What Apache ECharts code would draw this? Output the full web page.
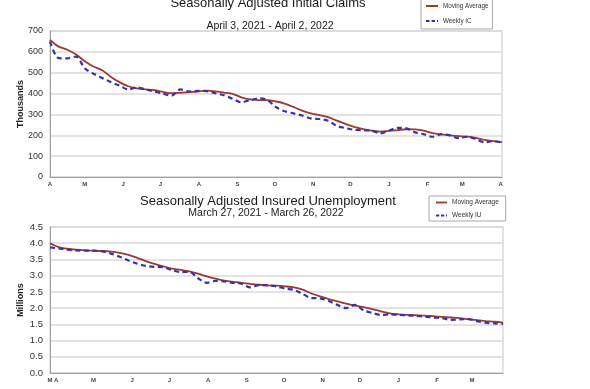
<!DOCTYPE html>
<html>
<head>
<meta charset="utf-8">
<script src="https://cdn.jsdelivr.net/npm/echarts@6/dist/echarts.min.js"></script>
<style>html,body{margin:0;padding:0;background:#fff;}#c{width:590px;height:389px;}</style>
</head>
<body>
<div id="c"></div>
<script>
// ---- Data: Initial Claims (thousands), weekly, April 3, 2021 - April 2, 2022 ----
const icStart = '2021-04-03';
const icMovingAvg = [657,625,610,587,555,530,512,480,455,435,425,420,416,408,402,404,407,410,414,411,405,399,382,372,369,369,362,352,336,318,305,297,287,270,255,240,230,222,218,221,225,229,228,222,210,204,200,196,194,188,178,172,167];
const icWeekly = [649,570,569,577,521,495,475,455,438,420,430,420,410,400,390,420,410,413,412,402,392,375,358,368,377,369,335,315,305,295,281,278,270,245,235,226,224,222,209,222,236,233,214,205,193,205,200,186,193,182,166,172,165];
const icTickDates = ['2021-04-03','2021-05-01','2021-06-01','2021-07-01','2021-08-01','2021-09-01','2021-10-01','2021-11-01','2021-12-01','2022-01-01','2022-02-01','2022-03-01','2022-04-01'];
const icTickLabels = ['A','M','J','J','A','S','O','N','D','J','F','M','A'];
const icYTicks = [0,100,200,300,400,500,600,700];

// ---- Data: Insured Unemployment (millions), weekly, March 27, 2021 - March 26, 2022 ----
const iuStart = '2021-03-27';
const iuMovingAvg = [4.00,3.88,3.83,3.80,3.78,3.77,3.76,3.74,3.70,3.64,3.55,3.45,3.36,3.29,3.22,3.18,3.13,3.06,2.98,2.91,2.85,2.81,2.78,2.75,2.72,2.70,2.69,2.67,2.64,2.57,2.45,2.36,2.28,2.21,2.14,2.08,2.03,1.97,1.90,1.84,1.81,1.79,1.78,1.77,1.75,1.73,1.71,1.69,1.66,1.63,1.60,1.58,1.55];
const iuWeekly = [3.87,3.84,3.80,3.78,3.77,3.77,3.75,3.68,3.58,3.47,3.37,3.30,3.27,3.26,3.17,3.11,3.12,2.92,2.78,2.84,2.82,2.78,2.75,2.64,2.71,2.70,2.67,2.60,2.56,2.44,2.31,2.30,2.22,2.10,2.00,2.10,1.93,1.85,1.79,1.81,1.79,1.78,1.76,1.74,1.71,1.69,1.64,1.65,1.66,1.60,1.55,1.53,1.51];
const iuTickDates = ['2021-03-27','2021-04-01','2021-05-01','2021-06-01','2021-07-01','2021-08-01','2021-09-01','2021-10-01','2021-11-01','2021-12-01','2022-01-01','2022-02-01','2022-03-01'];
const iuTickLabels = ['M','A','M','J','J','A','S','O','N','D','J','F','M'];
const iuYTicks = [0,0.5,1.0,1.5,2.0,2.5,3.0,3.5,4.0,4.5];

// ---- helpers ----
const DAY = 86400000;
function ts(s){ return Date.parse(s + 'T00:00:00Z'); }
function weeks(start, n){ const t0 = ts(start); const out=[]; for(let i=0;i<n;i++) out.push(t0 + i*7*DAY); return out; }
const icDates = weeks(icStart, icWeekly.length);
const iuDates = weeks(iuStart, iuWeekly.length);
function pairs(dates, vals){ return dates.map((d,i)=>[d, vals[i]]); }
function labelFor(ticks, labels){
  const t = ticks.map(ts);
  return function(v){
    let best=0, bd=Infinity;
    for(let i=0;i<t.length;i++){ const d=Math.abs(t[i]-v); if(d<bd){bd=d;best=i;} }
    return labels[best];
  };
}

const RED = '#9a3b34';
const BLUE = '#3434a8';
const FONT = 'Liberation Sans, Arial, sans-serif';
const SOLID_ICON = 'path://M0,0H12V2H0Z';
const DASH_ICON = 'path://M0,0H3.5V2H0ZM5.5,0H9V2H5.5ZM11,0H12V2H11Z';

function xAxisFor(idx, dates, tickDates, tickLabels){
  return {
    type: 'value', gridIndex: idx,
    min: dates[0], max: dates[dates.length-1],
    axisLine: {show: true, lineStyle: {color: '#a0a0a0', width: 1}},
    axisTick: {show: false, customValues: tickDates.map(ts)},
    axisLabel: {
      customValues: tickDates.map(ts),
      formatter: labelFor(tickDates, tickLabels),
      fontSize: 6, color: '#444', fontFamily: FONT, fontWeight: 'bold', margin: 4,
      showMinLabel: true, showMaxLabel: true, hideOverlap: false
    },
    splitLine: {show: false}
  };
}
function yAxisFor(idx, ticks, name, decimals, fs){
  return {
    type: 'value', gridIndex: idx,
    min: ticks[0], max: ticks[ticks.length-1], interval: ticks[1]-ticks[0],
    name: name, nameLocation: 'middle', nameRotate: 90, nameGap: 25, nameMoveOverlap: false,
    nameTextStyle: {fontSize: 9, fontWeight: 'bold', color: '#222', fontFamily: FONT},
    axisLine: {show: true, lineStyle: {color: '#a0a0a0', width: 1}},
    axisTick: {show: false},
    axisLabel: {fontSize: fs, color: '#333', fontFamily: FONT, margin: 7,
      formatter: v => decimals ? v.toFixed(decimals) : String(v)},
    splitLine: {show: true, lineStyle: {color: '#dadada', width: 1.5}}
  };
}
function lineSeries(name, xi, dates, vals, color, dashed, width){
  return {
    name: name, type: 'line', xAxisIndex: xi, yAxisIndex: xi,
    data: pairs(dates, vals), symbol: 'none', showSymbol: false, smooth: 0.3,
    lineStyle: {color: color, width: width, type: dashed ? [5,3.5] : 'solid'},
    itemStyle: {color: color}, emphasis: {disabled: true}, animation: false
  };
}

const chart = echarts.init(document.getElementById('c'), null, {renderer: 'canvas'});
chart.setOption({
  backgroundColor: '#fff',
  animation: false,
  textStyle: {fontFamily: FONT},
  title: [
    {text: 'Seasonally Adjusted Initial Claims', left: 268, top: -3, textAlign: 'center', padding: 0,
     textStyle: {fontSize: 13, fontWeight: 'normal', color: '#1a1a1a', fontFamily: FONT}},
    {text: 'April 3, 2021 - April 2, 2022', left: 270, top: 21, textAlign: 'center', padding: 0,
     textStyle: {fontSize: 10.5, fontWeight: 'normal', color: '#222', fontFamily: FONT}},
    {text: 'Seasonally Adjusted Insured Unemployment', left: 268, top: 195, textAlign: 'center', padding: 0,
     textStyle: {fontSize: 13, fontWeight: 'normal', color: '#1a1a1a', fontFamily: FONT}},
    {text: 'March 27, 2021 - March 26, 2022', left: 266, top: 208, textAlign: 'center', padding: 0,
     textStyle: {fontSize: 10.5, fontWeight: 'normal', color: '#222', fontFamily: FONT}}
  ],
  legend: [
    {data: [{name: 'Moving Average', icon: SOLID_ICON}, {name: 'Weekly IC', icon: DASH_ICON}],
     orient: 'vertical', left: 421, top: -2,
     padding: [5,4,5,5], itemGap: 9, itemWidth: 12, itemHeight: 2,
     borderColor: '#a8a8a8', borderWidth: 1, backgroundColor: '#fff',
     textStyle: {fontSize: 6.3, color: '#333', fontFamily: FONT}, selectedMode: false},
    {data: [{name: 'Moving Average ', icon: SOLID_ICON}, {name: 'Weekly IU', icon: DASH_ICON}],
     orient: 'vertical', left: 429, top: 196,
     padding: [3,5,2,7], itemGap: 6, itemWidth: 11, itemHeight: 2,
     borderColor: '#a8a8a8', borderWidth: 1, backgroundColor: '#fff',
     textStyle: {fontSize: 6.5, color: '#333', fontFamily: FONT}, selectedMode: false}
  ],
  grid: [
    {left: 50, top: 31, width: 452, height: 146, show: true, borderColor: '#c8c8c8', borderWidth: 1, backgroundColor: '#fff'},
    {left: 50, top: 227, width: 453, height: 146, show: true, borderColor: '#c8c8c8', borderWidth: 1, backgroundColor: '#fff'}
  ],
  xAxis: [
    xAxisFor(0, icDates, icTickDates, icTickLabels),
    xAxisFor(1, iuDates, iuTickDates, iuTickLabels)
  ],
  yAxis: [
    yAxisFor(0, icYTicks, 'Thousands', 0, 9),
    yAxisFor(1, iuYTicks, 'Millions', 1, 9.5)
  ],
  series: [
    lineSeries('Moving Average', 0, icDates, icMovingAvg, RED, false, 1.8),
    lineSeries('Weekly IC', 0, icDates, icWeekly, BLUE, true, 2.2),
    lineSeries('Moving Average ', 1, iuDates, iuMovingAvg, RED, false, 1.8),
    lineSeries('Weekly IU', 1, iuDates, iuWeekly, BLUE, true, 2.2)
  ]
});
</script>
</body>
</html>
